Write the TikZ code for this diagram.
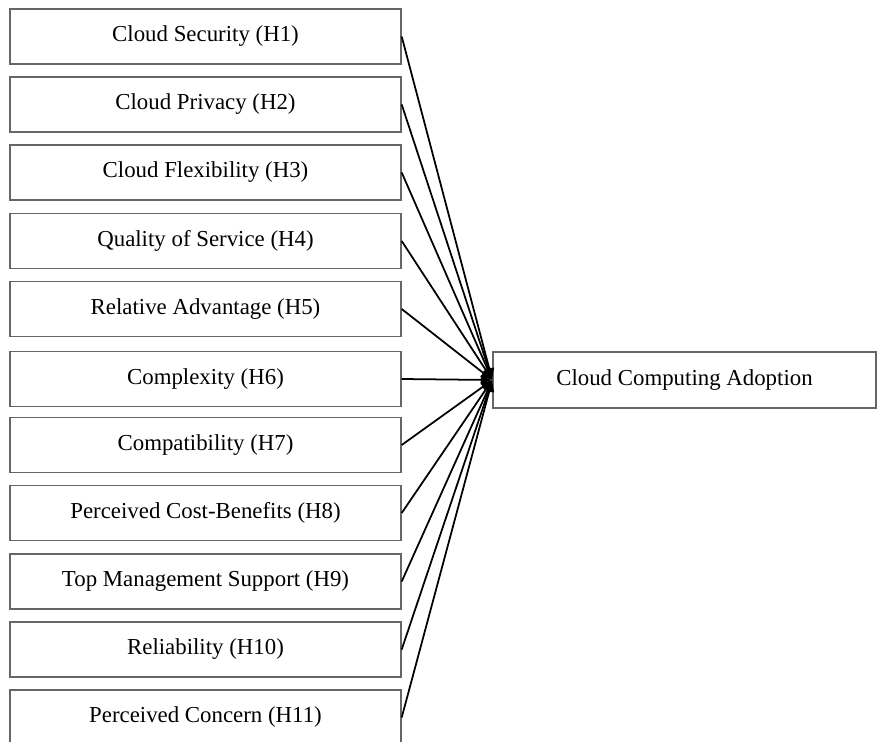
\documentclass[tikz,border=0pt]{standalone}
\usepackage{fontspec}
\setmainfont{Liberation Serif}
\usetikzlibrary{arrows.meta}

\begin{document}
\begin{tikzpicture}[
  factor/.style={rectangle, draw=black!60, line width=0.8pt, minimum width=7.82cm, minimum height=1.1cm, font=\fontsize{13}{15}\selectfont},
  outcome/.style={rectangle, draw=black!60, line width=0.8pt, minimum width=7.66cm, minimum height=1.12cm, font=\fontsize{13}{15}\selectfont},
  link/.style={-{Latex[length=6.5pt,width=6pt]}, line width=1pt}
]
\useasboundingbox (0,0) rectangle (17.54,-14.84);

\node [factor] (v1) at (4.11,-0.73) {Cloud Security (H1)};
\node [factor] (v2) at (4.11,-2.09) {Cloud Privacy (H2)};
\node [factor] (v3) at (4.11,-3.45) {Cloud Flexibility (H3)};
\node [factor] (v4) at (4.11,-4.82) {Quality of Service (H4)};
\node [factor] (v5) at (4.11,-6.18) {Relative Advantage (H5)};
\node [factor] (v6) at (4.11,-7.58) {Complexity (H6)};
\node [factor] (v7) at (4.11,-8.90) {Compatibility (H7)};
\node [factor] (v8) at (4.11,-10.26) {Perceived Cost-Benefits (H8)};
\node [factor] (v9) at (4.11,-11.63) {Top Management Support (H9)};
\node [factor] (v10) at (4.11,-12.99) {Reliability (H10)};
\node [factor] (v11) at (4.11,-14.35) {Perceived Concern (H11)};

\node [outcome] (v12) at (13.69,-7.6) {Cloud Computing Adoption};

\draw [link] (v1.east) -- (v12.west);
\draw [link] (v2.east) -- (v12.west);
\draw [link] (v3.east) -- (v12.west);
\draw [link] (v4.east) -- (v12.west);
\draw [link] (v5.east) -- (v12.west);
\draw [link] (v6.east) -- (v12.west);
\draw [link] (v7.east) -- (v12.west);
\draw [link] (v8.east) -- (v12.west);
\draw [link] (v9.east) -- (v12.west);
\draw [link] (v10.east) -- (v12.west);
\draw [link] (v11.east) -- (v12.west);
\end{tikzpicture}
\end{document}
